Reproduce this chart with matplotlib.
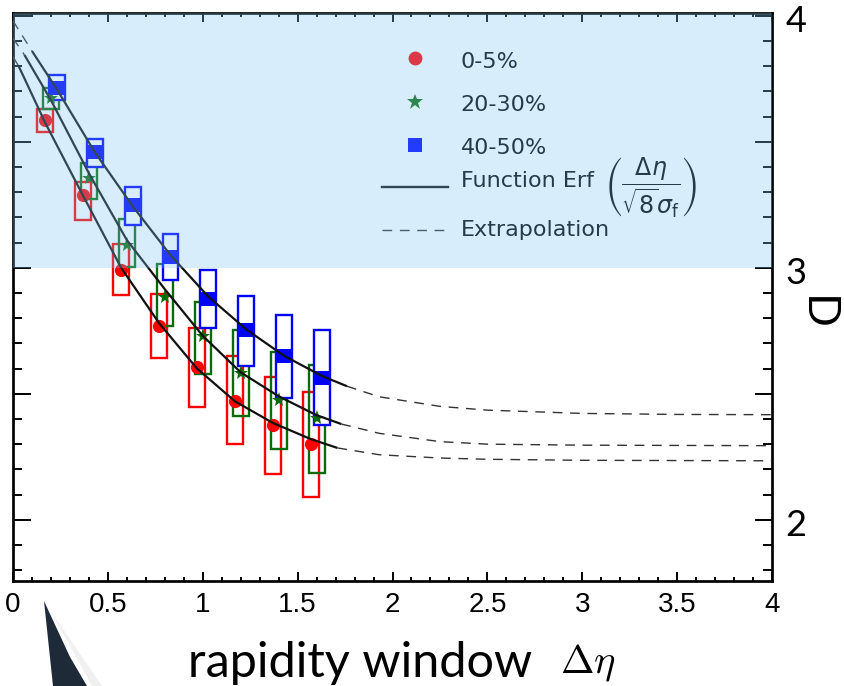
import matplotlib.pyplot as plt
from matplotlib.patches import Rectangle, Polygon
from matplotlib.ticker import MultipleLocator

# --- data ---
# one bin every 0.2 in delta-eta, each centrality class slightly shifted
red_x = [0.17, 0.37, 0.57, 0.77, 0.97, 1.17, 1.37, 1.57]
red_y = [3.587, 3.29, 2.99, 2.77, 2.605, 2.472, 2.376, 2.302]
red_lo = [3.537, 3.19, 2.892, 2.64, 2.449, 2.30, 2.182, 2.089]
red_hi = [3.63, 3.339, 3.095, 2.896, 2.76, 2.65, 2.566, 2.508]

green_x = [0.20, 0.40, 0.60, 0.80, 1.00, 1.20, 1.40, 1.60]
green_y = [3.673, 3.355, 3.09, 2.885, 2.729, 2.581, 2.476, 2.402]
green_lo = [3.63, 3.272, 3.005, 2.769, 2.578, 2.413, 2.279, 2.184]
green_hi = [3.713, 3.415, 3.193, 3.015, 2.866, 2.753, 2.667, 2.615]

blue_x = [0.23, 0.43, 0.63, 0.83, 1.03, 1.23, 1.43, 1.63]
blue_y = [3.714, 3.461, 3.25, 3.042, 2.875, 2.754, 2.65, 2.564]
blue_lo = [3.664, 3.40, 3.168, 2.95, 2.76, 2.61, 2.485, 2.376]
blue_hi = [3.764, 3.511, 3.319, 3.135, 2.99, 2.886, 2.813, 2.753]

# erf fits (solid) and their extrapolations (dashed)
red_fit_x = [0.03, 0.17, 0.37, 0.57, 0.77, 0.97, 1.17, 1.37, 1.57, 1.71]
red_fit_y = [3.80, 3.575, 3.285, 3.00, 2.78, 2.60, 2.47, 2.384, 2.32, 2.285]
red_ext_left_x = [0.0, 0.03]
red_ext_left_y = [3.837, 3.80]
red_ext_x = [1.71, 1.93, 2.25, 2.5, 3.0, 3.5, 4.0]
red_ext_y = [2.285, 2.258, 2.245, 2.240, 2.236, 2.235, 2.234]

green_fit_x = [0.06, 0.20, 0.40, 0.60, 0.80, 1.00, 1.20, 1.40, 1.60, 1.73]
green_fit_y = [3.845, 3.665, 3.375, 3.11, 2.915, 2.73, 2.585, 2.49, 2.415, 2.38]
green_ext_left_x = [0.0, 0.06]
green_ext_left_y = [3.911, 3.845]
green_ext_x = [1.73, 1.93, 2.25, 2.5, 3.0, 3.5, 4.0]
green_ext_y = [2.38, 2.343, 2.31, 2.30, 2.296, 2.295, 2.294]

blue_fit_x = [0.10, 0.23, 0.43, 0.63, 0.83, 1.03, 1.23, 1.43, 1.63, 1.76]
blue_fit_y = [3.86, 3.71, 3.46, 3.245, 3.05, 2.885, 2.755, 2.65, 2.57, 2.53]
blue_ext_left_x = [0.0, 0.10]
blue_ext_left_y = [3.98, 3.86]
blue_ext_x = [1.76, 1.93, 2.25, 2.5, 3.0, 3.5, 4.0]
blue_ext_y = [2.53, 2.488, 2.45, 2.435, 2.422, 2.418, 2.417]

x_ticks = [0, 0.5, 1, 1.5, 2, 2.5, 3, 3.5, 4]
x_tick_labels = ["0", "0.5", "1", "1.5", "2", "2.5", "3", "3.5", "4"]
right_labels = [2, 3, 4]
legend_labels = ["0-5%", "20-30%", "40-50%", "Function Erf", "Extrapolation"]

RED = "#ff0000"
GREEN = "#0b6b0b"
BLUE = "#0000ff"
BOX_HW = 0.042

fig = plt.figure(figsize=(8.44, 6.86), dpi=100)
ax = fig.add_axes([13 / 844, 105 / 686, 759 / 844, 568 / 686])
ax.set_xlim(0, 4)
ax.set_ylim(1.757, 4.011)

series = [
    (red_x, red_y, red_lo, red_hi, RED, "o", 9.5, "none"),
    (green_x, green_y, green_lo, green_hi, GREEN, "*", 11, "none"),
    (blue_x, blue_y, blue_lo, blue_hi, BLUE, "s", 10, "white"),
]

# systematic boxes
for xs, ys, lo, hi, col, mk, ms, fc in series:
    for x, l, h in zip(xs, lo, hi):
        ax.add_patch(Rectangle((x - BOX_HW, l), 2 * BOX_HW, h - l,
                               facecolor=fc, fill=(fc != "none"),
                               edgecolor=col, lw=1.7, zorder=2))

# points
for xs, ys, lo, hi, col, mk, ms, fc in series:
    ax.plot(xs, ys, ls="none", marker=mk, ms=ms, color=col, mew=0, zorder=3)

# fit curves
fits = [
    (red_fit_x, red_fit_y, red_ext_left_x, red_ext_left_y, red_ext_x, red_ext_y),
    (green_fit_x, green_fit_y, green_ext_left_x, green_ext_left_y, green_ext_x, green_ext_y),
    (blue_fit_x, blue_fit_y, blue_ext_left_x, blue_ext_left_y, blue_ext_x, blue_ext_y),
]
for fx, fy, lx, ly, ex, ey in fits:
    ax.plot(fx, fy, color="#111111", lw=1.6, zorder=4, solid_capstyle="butt")
    ax.plot(lx, ly, color="#333333", lw=1.0, dashes=(7, 5.5), zorder=4)
    ax.plot(ex, ey, color="#333333", lw=1.0, dashes=(7, 5.5), zorder=4)

# legend drawn by hand (axes coordinates)
mk_x = 0.529
tx = 0.5896
ax.plot([mk_x], [0.920], transform=ax.transAxes, marker="o", ms=10, color=RED, mew=0)
ax.plot([mk_x], [0.8438], transform=ax.transAxes, marker="*", ms=12, color=GREEN, mew=0)
ax.plot([mk_x], [0.7676], transform=ax.transAxes, marker="s", ms=9.4, color=BLUE, mew=0)
ax.plot([0.4858, 0.5735], [0.694, 0.694], transform=ax.transAxes, color="#111111", lw=1.7)
ax.plot([0.4858, 0.5735], [0.618, 0.618], transform=ax.transAxes, color="#333333",
        lw=1.0, dashes=(7, 5.5))
for lab, yb in zip(legend_labels, [0.903, 0.8275, 0.7513, 0.6931, 0.6079]):
    ax.text(tx, yb, lab, transform=ax.transAxes, fontsize=16, family="DejaVu Sans",
            color="black", va="baseline", ha="left")
ax.text(0.779, 0.692, r"$\left(\dfrac{\Delta\eta}{\sqrt{8}\sigma_{\mathrm{f}}}\right)$",
        transform=ax.transAxes, fontsize=17, color="black", va="center", ha="left")

# semi-transparent blue highlight over D > 3
ax.axhspan(3, 4.2, facecolor=(125 / 255, 198 / 255, 242 / 255), alpha=0.3, lw=0, zorder=10)

# axes styling
ax.set_xticks(x_ticks)
ax.set_xticklabels(x_tick_labels, family="Liberation Sans", fontsize=20)
ax.xaxis.set_minor_locator(MultipleLocator(0.1))
ax.yaxis.set_major_locator(MultipleLocator(0.5))
ax.yaxis.set_minor_locator(MultipleLocator(0.1))
ax.tick_params(axis="x", which="major", direction="in", length=6.5, width=1.4,
               top=True, bottom=True, pad=8)
ax.tick_params(axis="x", which="minor", direction="in", length=3.2, width=1.4,
               top=True, bottom=True)
ax.tick_params(axis="y", which="major", direction="in", length=12.6, width=1.4,
               left=True, right=True, labelleft=False)
ax.tick_params(axis="y", which="minor", direction="in", length=6.5, width=1.4,
               left=True, right=True)
for s in ax.spines.values():
    s.set_linewidth(1.95)

# slide annotations: right-hand D scale and x title
for v in right_labels:
    ax.text(1.018, v - 0.022, str(v), transform=ax.get_yaxis_transform(), fontsize=26,
            family="Lato", ha="left", va="center", clip_on=False)
fig.text(816 / 844, 1 - 313 / 686, "D", fontsize=32, family="Lato", rotation=-90,
         ha="center", va="center")
fig.text(188 / 844, 9 / 686, "rapidity window", fontsize=35, family="Lato",
         ha="left", va="baseline")
fig.text(560 / 844, 13 / 686, r"$\Delta\eta$", fontsize=29, math_fontfamily="cm",
         ha="left", va="baseline")

# callout pointer from the slide
fig.add_artist(Polygon([(50 / 844, 1 - 610 / 686), (92 / 844, 0), (102 / 844, 0)],
                       closed=True, transform=fig.transFigure, facecolor="#888888",
                       alpha=0.12, lw=0))
fig.add_artist(Polygon([(44 / 844, 1 - 601 / 686), (53 / 844, 0), (87 / 844, 0),
                        (70 / 844, 1 - 657 / 686)],
                       closed=True, transform=fig.transFigure, facecolor="#1f2a38", lw=0))

fig.savefig("out.png", dpi=100)
